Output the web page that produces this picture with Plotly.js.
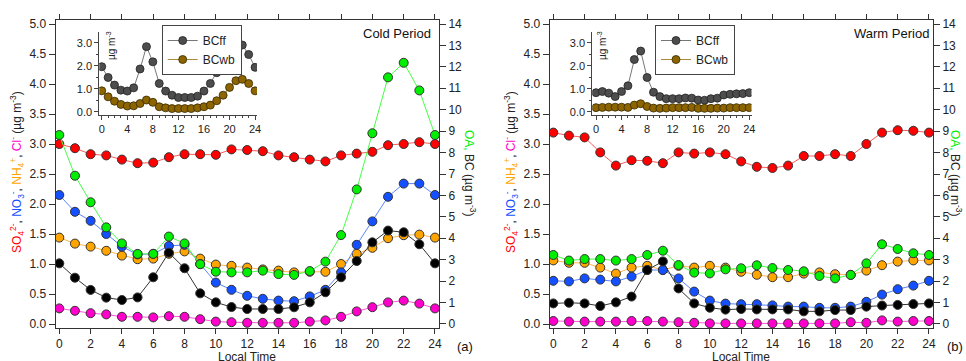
<!DOCTYPE html>
<html>
<head>
<meta charset="utf-8">
<script src="https://cdn.plot.ly/plotly-3.0.1.min.js"></script>
<style>html,body{margin:0;padding:0;background:#fff;}#chart{width:966px;height:361px;}</style>
</head>
<body>
<div id="chart"></div>
<script>
// ---------------- DATA ----------------
const hours = [0,1,2,3,4,5,6,7,8,9,10,11,12,13,14,15,16,17,18,19,20,21,22,23,24];

// Cold period (panel a) — left axis (µg m-3)
const coldSO4 = [3.00,2.93,2.83,2.81,2.74,2.68,2.69,2.78,2.83,2.83,2.82,2.91,2.90,2.88,2.81,2.78,2.74,2.71,2.81,2.84,2.87,2.98,3.00,3.03,3.00];
const coldNO3 = [2.15,1.87,1.72,1.50,1.29,1.16,1.17,1.30,1.32,1.00,0.69,0.57,0.47,0.42,0.39,0.38,0.46,0.57,0.86,1.32,1.71,2.12,2.34,2.34,2.15];
const coldNH4 = [1.44,1.34,1.29,1.22,1.14,1.08,1.09,1.17,1.21,1.09,0.99,0.97,0.94,0.91,0.89,0.86,0.87,0.87,1.00,1.17,1.27,1.43,1.48,1.49,1.44];
const coldCl  = [0.26,0.22,0.18,0.16,0.12,0.12,0.11,0.13,0.12,0.08,0.04,0.03,0.02,0.02,0.02,0.02,0.04,0.06,0.12,0.21,0.28,0.36,0.39,0.34,0.26];
// Cold period — right axis (µg m-3)
const coldOA  = [8.82,6.92,5.68,4.51,3.76,3.27,3.27,4.08,3.76,2.79,2.44,2.41,2.41,2.49,2.33,2.29,2.47,2.91,4.15,6.28,8.90,11.51,12.19,10.90,8.82];
const coldBC  = [2.83,2.16,1.59,1.23,1.12,1.24,2.18,3.33,2.60,1.43,1.01,0.79,0.70,0.70,0.70,0.78,1.01,1.48,2.18,2.94,3.81,4.36,4.28,3.72,2.83];
// Cold inset
const coldBCff = [1.96,1.49,1.16,0.94,0.90,1.04,1.86,2.83,2.17,1.23,0.90,0.72,0.62,0.62,0.62,0.68,0.90,1.23,1.70,2.22,2.75,3.00,2.90,2.49,1.93];
const coldBCwb = [0.91,0.65,0.46,0.32,0.25,0.26,0.36,0.51,0.41,0.22,0.17,0.14,0.14,0.14,0.14,0.17,0.22,0.29,0.48,0.72,1.06,1.35,1.41,1.23,0.91];

// Warm period (panel b)
const warmSO4 = [3.19,3.14,3.11,2.86,2.64,2.73,2.72,2.68,2.86,2.84,2.86,2.83,2.71,2.62,2.60,2.64,2.80,2.80,2.83,2.80,3.00,3.19,3.23,3.22,3.19];
const warmNO3 = [0.72,0.71,0.76,0.74,0.71,0.79,0.90,0.90,0.76,0.54,0.39,0.34,0.33,0.33,0.31,0.29,0.29,0.27,0.27,0.29,0.37,0.49,0.58,0.64,0.72];
const warmNH4 = [1.06,1.02,1.02,0.94,0.84,0.94,0.97,0.90,0.97,0.94,0.97,0.94,0.87,0.82,0.78,0.78,0.84,0.86,0.83,0.82,0.89,0.98,1.04,1.06,1.06];
const warmCl  = [0.05,0.04,0.04,0.04,0.04,0.05,0.05,0.04,0.03,0.02,0.01,0.01,0.01,0.01,0.01,0.01,0.01,0.01,0.01,0.03,0.02,0.06,0.04,0.05,0.05];
const warmOA  = [3.22,2.96,3.03,3.03,2.96,3.03,3.22,3.42,2.75,2.40,2.36,2.55,2.60,2.74,2.61,2.52,2.46,2.24,2.13,2.29,2.83,3.72,3.50,3.30,3.22];
const warmBC  = [0.96,0.99,0.96,0.84,1.01,1.28,2.52,2.92,1.66,0.96,0.76,0.67,0.70,0.68,0.68,0.68,0.59,0.59,0.65,0.65,0.81,0.86,0.89,0.93,0.96];
const warmBCff = [0.83,0.88,0.81,0.66,0.88,1.13,2.27,2.64,1.49,0.85,0.66,0.57,0.57,0.57,0.60,0.59,0.51,0.50,0.57,0.59,0.73,0.76,0.78,0.79,0.83];
const warmBCwb = [0.18,0.19,0.20,0.20,0.20,0.19,0.29,0.35,0.23,0.16,0.15,0.16,0.18,0.18,0.18,0.19,0.15,0.15,0.15,0.16,0.16,0.18,0.18,0.18,0.18];

const mainTicks = [0,2,4,6,8,10,12,14,16,18,20,22,24];
const insetTicks = [0,4,8,12,16,20,24];

// ---------------- STYLE ----------------
const W = 966, H = 361;
const px = v => v / W;
const py = v => (H - v) / H;
const FONT = 'Liberation Sans, Arial, sans-serif';
const C = {so4:'#ff0000', no3:'#1450ff', nh4:'#ffa500', cl:'#ff00cc', oa:'#00ee00', bc:'#000000', ff:'#4d4d4d', wb:'#8c6400'};
const LC = {so4:'#ff5a5a', no3:'#5a85ff', nh4:'#ffb84d', cl:'#ff55dd', oa:'#44ff44', bc:'#333333', ff:'#777777', wb:'#a88a3a'};

function tr(x, y, key, xa, ya, extra) {
  return Object.assign({
    type:'scatter', mode:'lines+markers', x:x, y:y, xaxis:xa, yaxis:ya,
    line:{color:LC[key], width:1},
    marker:{color:C[key], size:9, line:{color:'#333', width:1}},
    showlegend:false, hoverinfo:'skip'
  }, extra || {});
}

const data = [
  // panel a, left axis
  tr(hours, coldSO4, 'so4', 'x', 'y'),
  tr(hours, coldNH4, 'nh4', 'x', 'y'),
  tr(hours, coldNO3, 'no3', 'x', 'y'),
  tr(hours, coldCl,  'cl',  'x', 'y'),
  // panel a, right axis
  tr(hours, coldBC,  'bc',  'x', 'y2'),
  tr(hours, coldOA,  'oa',  'x', 'y2'),
  // panel b, left axis
  tr(hours, warmSO4, 'so4', 'x2', 'y3'),
  tr(hours, warmNH4, 'nh4', 'x2', 'y3'),
  tr(hours, warmNO3, 'no3', 'x2', 'y3'),
  tr(hours, warmCl,  'cl',  'x2', 'y3'),
  // panel b, right axis
  tr(hours, warmBC,  'bc',  'x2', 'y4'),
  tr(hours, warmOA,  'oa',  'x2', 'y4'),
  // insets
  tr(hours, coldBCff, 'ff', 'x3', 'y5', {name:'BCff', showlegend:true, legend:'legend', marker:{color:C.ff, size:8, line:{color:'#222', width:0.8}}}),
  tr(hours, coldBCwb, 'wb', 'x3', 'y5', {name:'BCwb', showlegend:true, legend:'legend', marker:{color:C.wb, size:8, line:{color:'#3a2a00', width:0.8}}}),
  tr(hours, warmBCff, 'ff', 'x4', 'y6', {name:'BCff', showlegend:true, legend:'legend2', marker:{color:C.ff, size:8, line:{color:'#222', width:0.8}}}),
  tr(hours, warmBCwb, 'wb', 'x4', 'y6', {name:'BCwb', showlegend:true, legend:'legend2', marker:{color:C.wb, size:8, line:{color:'#3a2a00', width:0.8}}})
];

const tickFont = {family:FONT, size:12, color:'#222'};
function mainX(dom, range, anchor) {
  return {domain:dom, range:range, anchor:anchor, tickvals:mainTicks, ticks:'outside', ticklen:5, tickwidth:1,
    tickcolor:'#333', showline:true, linecolor:'#333', linewidth:1, mirror:'ticks', showgrid:false, zeroline:false,
    tickfont:tickFont, fixedrange:true};
}
function leftY(anchor) {
  return {domain:[py(328), py(19.5)], range:[-0.0667, 5.075], anchor:anchor, dtick:0.5, tick0:0, tickformat:'.1f',
    ticks:'outside', ticklen:6, tickcolor:'#333', showline:true, linecolor:'#333', linewidth:1, showgrid:false,
    zeroline:false, tickfont:tickFont, fixedrange:true};
}
function rightY(overlay, anchor) {
  return {overlaying:overlay, anchor:anchor, side:'right', range:[-0.187, 14.21], dtick:1, tick0:0,
    ticks:'outside', ticklen:6, tickcolor:'#333', showline:true, linecolor:'#333', linewidth:1, showgrid:false,
    zeroline:false, tickfont:tickFont, fixedrange:true};
}
const insetFont = {family:FONT, size:11, color:'#222'};
function insetX(dom, range, anchor) {
  return {domain:dom, range:range, anchor:anchor, tickvals:insetTicks, ticks:'outside', ticklen:4, tickcolor:'#444',
    showline:true, linecolor:'#444', linewidth:1, showgrid:false, zeroline:false, tickfont:insetFont,
    minor:{dtick:1, ticks:'outside', ticklen:2, tickcolor:'#444'}, fixedrange:true};
}
function insetY(anchor) {
  return {domain:[py(115), py(31.7)], range:[-0.14, 3.48], anchor:anchor, tickvals:[0,1,2,3], tickformat:'.1f',
    ticks:'outside', ticklen:4, tickcolor:'#444', showline:true, linecolor:'#444', linewidth:1, showgrid:false,
    zeroline:false, tickfont:insetFont, minor:{dtick:0.5, ticks:'outside', ticklen:2, tickcolor:'#444'}, fixedrange:true};
}

const leftTitle = '<span style="color:#ff0000">SO<sub>4</sub><sup>2-</sup></span>, ' +
  '<span style="color:#1450ff">NO<sub>3</sub><sup>-</sup></span>, ' +
  '<span style="color:#ffa500">NH<sub>4</sub><sup>+</sup></span>, ' +
  '<span style="color:#ff00cc">Cl<sup>-</sup></span> (µg m<sup>-3</sup>)';
const rightTitle = '<span style="color:#00ee00">OA,</span> BC (µg m<sup>-3</sup>)';

function ann(text, x, y, opts) {
  return Object.assign({text:text, x:px(x), y:py(y), xref:'paper', yref:'paper', showarrow:false,
    font:{family:FONT, size:12, color:'#222'}, xanchor:'center', yanchor:'middle'}, opts || {});
}

const layout = {
  width:W, height:H, margin:{l:0, r:0, t:0, b:0}, paper_bgcolor:'#fff', plot_bgcolor:'#fff',
  font:{family:FONT},
  xaxis: mainX([px(55.5), px(439)], [-0.243, 24.256], 'y'),
  yaxis: leftY('x'),
  yaxis2: rightY('y', 'x'),
  xaxis2: mainX([px(549.7), px(933)], [-0.23, 24.256], 'y3'),
  yaxis3: leftY('x2'),
  yaxis4: rightY('y3', 'x2'),
  xaxis3: insetX([px(99.3), px(257)], [-0.38, 24.3], 'y5'),
  yaxis5: insetY('x3'),
  xaxis4: insetX([px(592.3), px(751.5)], [-0.58, 24.35], 'y6'),
  yaxis6: insetY('x4'),
  legend: {x:px(161.7), y:py(25), xanchor:'left', yanchor:'top', bgcolor:'#fff', bordercolor:'#444', borderwidth:1,
    font:{family:FONT, size:12, color:'#222'}, tracegroupgap:0, itemwidth:30},
  legend2: {x:px(655), y:py(25), xanchor:'left', yanchor:'top', bgcolor:'#fff', bordercolor:'#444', borderwidth:1,
    font:{family:FONT, size:12, color:'#222'}, tracegroupgap:0, itemwidth:30},
  annotations: [
    ann(leftTitle, 17, 172, {textangle:-90}),
    ann(leftTitle, 511, 172, {textangle:-90}),
    ann(rightTitle, 470, 173, {textangle:90}),
    ann(rightTitle, 956, 173, {textangle:90, font:{family:FONT, size:12, color:'#222'}}),
    ann('Cold Period', 433, 33, {xanchor:'right', font:{family:FONT, size:13, color:'#111'}}),
    ann('Warm Period', 931, 33, {xanchor:'right', font:{family:FONT, size:13, color:'#111'}}),
    ann('(a)', 465, 346, {font:{family:FONT, size:13, color:'#111'}}),
    ann('(b)', 965, 346, {xanchor:'right', font:{family:FONT, size:13, color:'#111'}}),
    ann('Local Time', 247, 357, {font:{family:FONT, size:12, color:'#222'}}),
    ann('Local Time', 741, 357, {font:{family:FONT, size:12, color:'#222'}}),
    ann('µg m<sup>-3</sup>', 111, 46, {textangle:-90, font:{family:FONT, size:10, color:'#222'}}),
    ann('µg m<sup>-3</sup>', 602, 46, {textangle:-90, font:{family:FONT, size:10, color:'#222'}})
  ]
};

Plotly.newPlot('chart', data, layout, {staticPlot:true, displayModeBar:false});
</script>
</body>
</html>
